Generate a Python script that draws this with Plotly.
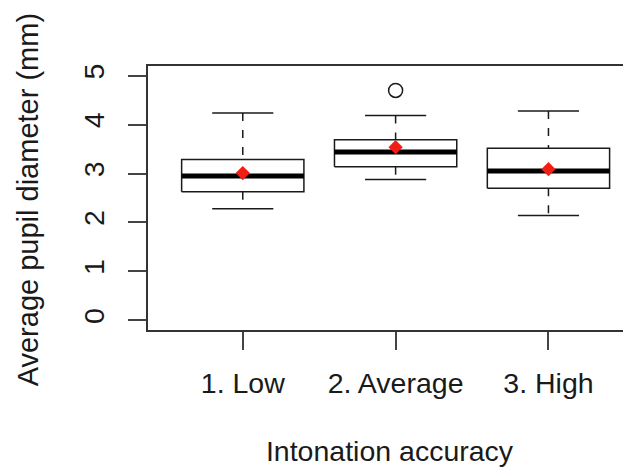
import plotly.graph_objects as go

# ---- data ----
categories = ["1. Low", "2. Average", "3. High"]
q1_vals = [2.63, 3.14, 2.70]
median_vals = [2.95, 3.44, 3.05]
q3_vals = [3.29, 3.69, 3.52]
lower_whisker = [2.28, 2.88, 2.14]
upper_whisker = [4.24, 4.19, 4.28]
mean_vals = [3.01, 3.54, 3.09]
outlier_group = [1]          # index into categories
outlier_vals = [4.70]
y_ticks = [0, 1, 2, 3, 4, 5]

x_title = "Intonation accuracy"
y_title = "Average pupil diameter (mm)"

# ---- geometry helpers ----
BOX_HALF = 0.4
CAP_HALF = 0.2
positions = [i + 1 for i in range(len(categories))]

ink = "#1a1a1a"
font = dict(family="Liberation Sans, Arial, Helvetica, sans-serif", size=28.5, color=ink)

box_x, box_y = [], []
med_x, med_y = [], []
wh_x, wh_y = [], []
cap_x, cap_y = [], []
for p, a, m, b, lo, hi in zip(positions, q1_vals, median_vals, q3_vals,
                               lower_whisker, upper_whisker):
    box_x += [p - BOX_HALF, p + BOX_HALF, p + BOX_HALF, p - BOX_HALF, p - BOX_HALF, None]
    box_y += [a, a, b, b, a, None]
    med_x += [p - BOX_HALF, p + BOX_HALF, None]
    med_y += [m, m, None]
    wh_x += [p, p, None, p, p, None]
    wh_y += [a, lo, None, hi, b, None]
    cap_x += [p - CAP_HALF, p + CAP_HALF, None, p - CAP_HALF, p + CAP_HALF, None]
    cap_y += [lo, lo, None, hi, hi, None]

fig = go.Figure()
fig.add_trace(go.Scatter(x=wh_x, y=wh_y, mode="lines",
                         line=dict(color=ink, width=1.5, dash="8px,9px"),
                         hoverinfo="skip", showlegend=False))
fig.add_trace(go.Scatter(x=cap_x, y=cap_y, mode="lines",
                         line=dict(color=ink, width=1.5),
                         hoverinfo="skip", showlegend=False))
fig.add_trace(go.Scatter(x=box_x, y=box_y, mode="lines",
                         line=dict(color=ink, width=1.5),
                         hoverinfo="skip", showlegend=False))
fig.add_trace(go.Scatter(x=med_x, y=med_y, mode="lines",
                         line=dict(color="#000000", width=5),
                         hoverinfo="skip", showlegend=False))
fig.add_trace(go.Scatter(x=[positions[i] for i in outlier_group], y=outlier_vals,
                         mode="markers",
                         marker=dict(symbol="circle-open", size=14,
                                     color=ink, line=dict(width=1.5, color=ink)),
                         showlegend=False))
fig.add_trace(go.Scatter(x=positions, y=mean_vals, mode="markers",
                         marker=dict(symbol="diamond", size=11, color="#f01e14"),
                         showlegend=False))

fig.update_layout(
    width=623, height=460,
    margin=dict(l=140, r=0, t=58, b=138),
    paper_bgcolor="white", plot_bgcolor="white",
    font=font,
    showlegend=False,
)
fig.update_xaxes(
    range=[0.38, 3.54],
    tickmode="array", tickvals=positions, ticktext=categories,
    ticks="outside", ticklen=18, tickwidth=1.5, tickcolor="#444",
    ticklabelstandoff=9,
    showline=True, linecolor="#333", linewidth=1.5, mirror=True,
    showgrid=False, zeroline=False,
    tickfont=font,
    title=dict(text=x_title, font=font, standoff=43),
)
fig.update_yaxes(
    range=[-0.2, 5.2],
    tickmode="array", tickvals=y_ticks, ticktext=[str(t) for t in y_ticks],
    tickangle=-90,
    ticks="outside", ticklen=18, tickwidth=1.5, tickcolor="#444",
    ticklabelstandoff=13,
    showline=True, linecolor="#333", linewidth=1.5, mirror=False,
    showgrid=False, zeroline=False,
    tickfont=font,
)
# y-axis title placed as an annotation so it sits at R's outer-margin position
fig.add_annotation(
    text=y_title, xref="paper", yref="paper",
    x=-0.248, y=0.492, xanchor="center", yanchor="middle",
    textangle=-90, showarrow=False, font=dict(font, size=29),
)

fig.write_html("out.html")
